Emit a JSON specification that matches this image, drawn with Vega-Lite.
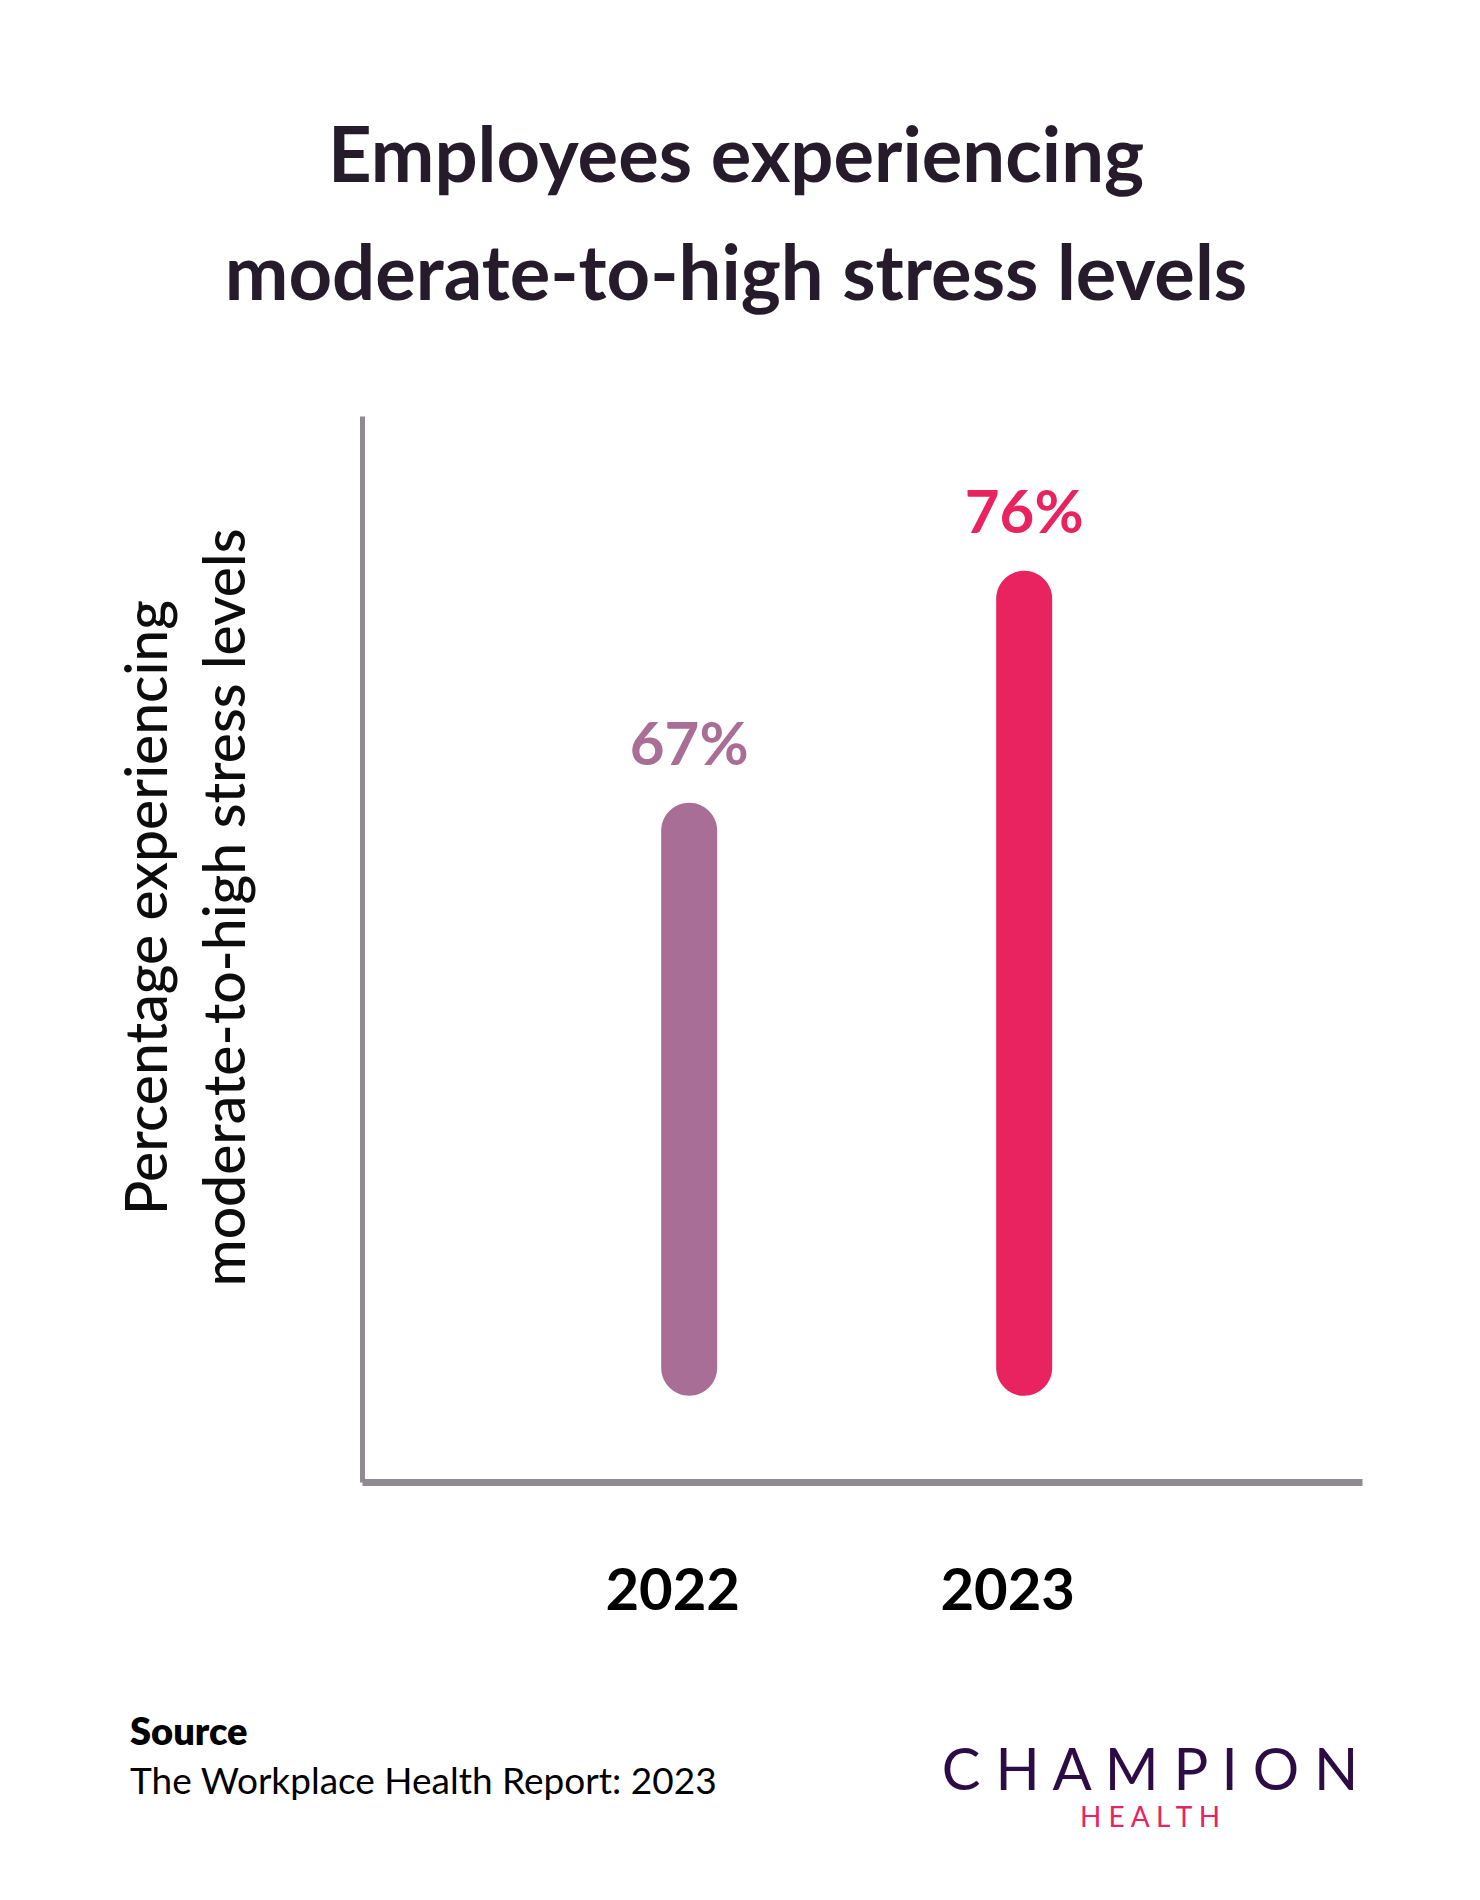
{
  "$schema": "https://vega.github.io/schema/vega-lite/v6.json",
  "autosize": {"type": "none"},
  "padding": {"left": 362, "top": 416, "right": 118, "bottom": 418},
  "width": 1000,
  "height": 1066,
  "background": "#ffffff",
  "config": {"view": {"stroke": null}, "font": "Lato"},
  "title": {
    "text": ["Employees experiencing", "moderate-to-high stress levels"],
    "font": "Lato",
    "fontSize": 76,
    "fontWeight": 700,
    "color": "#251b2b",
    "lineHeight": 118,
    "anchor": "middle",
    "frame": "group",
    "dx": -126,
    "offset": 100
  },
  "datasets": {
    "stress": [
      {"year": "2022", "share": 0.67},
      {"year": "2023", "share": 0.76}
    ],
    "footer": [
      {"role": "sourceHead", "block": "source", "line": 1, "text": "Source"},
      {"role": "sourceBody", "block": "source", "line": 2, "text": "The Workplace Health Report: 2023"},
      {"role": "logoMain", "block": "logo", "line": 1, "text": "C H A M P I O N"},
      {"role": "logoSub", "block": "logo", "line": 2, "text": "H E A L T H"}
    ]
  },
  "resolve": {"scale": {"x": "independent", "y": "independent"}, "axis": {"x": "independent", "y": "independent"}},
  "layer": [
    {
      "data": {"name": "stress"},
      "encoding": {
        "x": {
          "field": "year",
          "type": "nominal",
          "scale": {"type": "point", "padding": 0.9925, "align": 0.492},
          "axis": {
            "title": null,
            "labelAngle": 0,
            "domainColor": "#908b93",
            "domainWidth": 7,
            "ticks": false,
            "tickSize": 0,
            "labelFont": "Lato",
            "labelFontSize": 58,
            "labelFontWeight": 700,
            "labelColor": "#000000",
            "labelPadding": 127,
            "labelBaseline": "alphabetic",
            "labelOffset": -17,
            "grid": false
          }
        },
        "y": {
          "field": "share",
          "type": "quantitative",
          "scale": {"domain": [0.4066, 0.82], "nice": false, "zero": false},
          "axis": {
            "title": ["Percentage experiencing", "moderate-to-high stress levels"],
            "titleFont": "Lato",
            "titleFontSize": 57,
            "titleFontWeight": 500,
            "titleColor": "#0d0d0d",
            "titleAngle": -90,
            "titleX": -196,
            "titleY": 491,
            "titleAlign": "center",
            "titleBaseline": "alphabetic",
            "titleLineHeight": 78,
            "labels": false,
            "ticks": false,
            "grid": false,
            "domainColor": "#908b93",
            "domainWidth": 5
          }
        },
        "color": {
          "field": "year",
          "type": "nominal",
          "scale": {"domain": ["2022", "2023"], "range": ["#a86e95", "#e8235f"]},
          "legend": null
        }
      },
      "layer": [
        {
          "mark": {"type": "bar", "width": 56, "cornerRadius": 28},
          "encoding": {"y2": {"datum": 0.44}}
        },
        {
          "mark": {"type": "text", "font": "Lato", "fontSize": 60, "fontWeight": 700, "baseline": "alphabetic", "dy": -38, "align": "center"},
          "encoding": {"text": {"field": "share", "type": "quantitative", "format": ".0%"}}
        }
      ]
    },
    {
      "data": {"name": "footer"},
      "encoding": {
        "x": {"field": "block", "type": "nominal", "scale": {"type": "point", "domain": ["source", "logo"], "range": [-232, 788], "padding": 0}, "axis": null},
        "y": {"field": "line", "type": "ordinal", "scale": {"type": "point", "domain": [1, 2], "range": [1329, 1378], "padding": 0}, "axis": null},
        "text": {"field": "text", "type": "nominal"}
      },
      "layer": [
        {
          "transform": [{"filter": "datum.role === 'sourceHead'"}],
          "mark": {"type": "text", "font": "Lato", "fontSize": 38, "fontWeight": 800, "align": "left", "baseline": "alphabetic", "color": "#000000"}
        },
        {
          "transform": [{"filter": "datum.role === 'sourceBody'"}],
          "mark": {"type": "text", "font": "Lato", "fontSize": 37, "fontWeight": 400, "align": "left", "baseline": "alphabetic", "color": "#000000"}
        },
        {
          "transform": [{"filter": "datum.role === 'logoMain'"}],
          "mark": {"type": "text", "font": "Lato", "fontSize": 58, "fontWeight": 400, "align": "center", "baseline": "alphabetic", "dy": 45, "color": "#2d0b45"}
        },
        {
          "transform": [{"filter": "datum.role === 'logoSub'"}],
          "mark": {"type": "text", "font": "Lato", "fontSize": 28, "fontWeight": 400, "align": "center", "baseline": "alphabetic", "dy": 33, "color": "#e8235f"}
        }
      ]
    }
  ]
}
